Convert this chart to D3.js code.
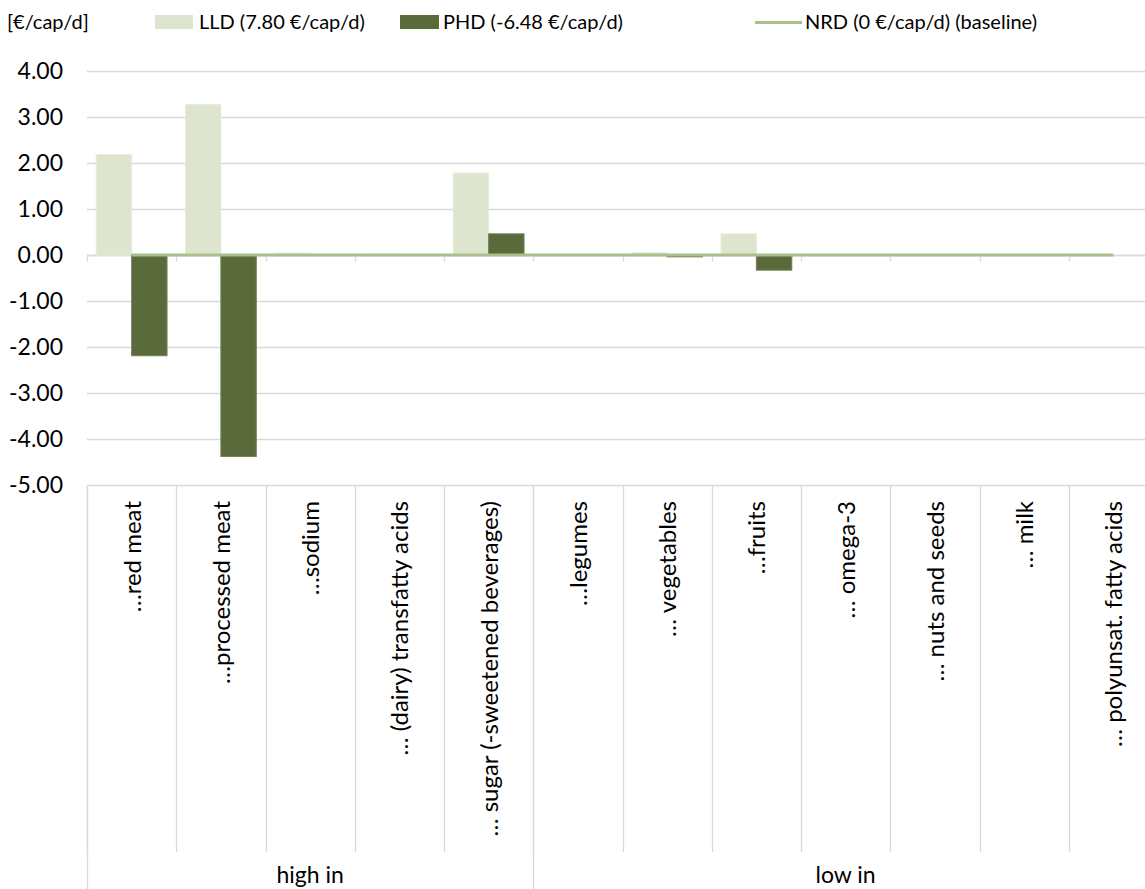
<!DOCTYPE html>
<html>
<head>
<meta charset="utf-8">
<script src="https://cdn.jsdelivr.net/npm/d3@7"></script>
<style>
  body { margin: 0; background: #fff; }
  text { font-family: Lato, "Open Sans", sans-serif; fill: #000; }
</style>
</head>
<body>
<script>
// chart data
var categories = ["…red meat", "…processed meat", "…sodium", "… (dairy) transfatty acids",
    "… sugar (-sweetened beverages)", "…legumes", "… vegetables", "…fruits", "… omega-3",
    "… nuts and seeds", "… milk", "… polyunsat. fatty acids"];
var groups = [{name: "high in", count: 5}, {name: "low in", count: 7}];
var lld = [2.18, 3.27, 0.04, 0.02, 1.78, 0, 0.05, 0.46, 0, 0, 0, 0];
var phd = [-2.19, -4.38, 0, 0, 0.46, 0, -0.04, -0.33, 0, 0, 0, 0];
var nrd = [0, 0, 0, 0, 0, 0, 0, 0, 0, 0, 0, 0];
var yTicks = [4, 3, 2, 1, 0, -1, -2, -3, -4, -5];
var legendItems = ["LLD (7.80 €/cap/d)", "PHD (-6.48 €/cap/d)", "NRD (0 €/cap/d) (baseline)"];

var svgWidth = 1145;
var svgHeight = 889;

var plot = {left: 87, right: 1158, top: 71, bottom: 485};

var svg = d3.select('body').append('svg')
    .attr('width', svgWidth)
    .attr('height', svgHeight);

var x = d3.scaleBand()
    .domain(d3.range(categories.length))
    .range([plot.left, plot.right]);

var xInner = d3.scaleBand()
    .domain(["lld", "phd"])
    .range([0, x.bandwidth()])
    .paddingOuter(0.26)
    .paddingInner(0);

var y = d3.scaleLinear()
    .domain([-5, 4])
    .range([plot.bottom, plot.top]);

var fmt = d => d3.format('.2f')(d).replace('−', '-');

// gridlines
svg.append('g')
    .selectAll('line')
    .data(yTicks)
    .enter()
    .append('line')
    .attr('x1', plot.left)
    .attr('x2', plot.right)
    .attr('y1', d => Math.round(y(d)) + 0.5)
    .attr('y2', d => Math.round(y(d)) + 0.5)
    .attr('stroke', '#d9d9d9')
    .attr('stroke-width', 1.3);

// y labels
svg.append('g')
    .selectAll('text')
    .data(yTicks)
    .enter()
    .append('text')
    .attr('x', 63)
    .attr('y', d => y(d))
    .attr('dy', '0.35em')
    .attr('text-anchor', 'end')
    .style('font-size', '23px')
    .text(fmt);

// category axis at zero with ticks
var zeroY = Math.round(y(0)) + 0.5;
svg.append('line')
    .attr('x1', plot.left).attr('x2', plot.right)
    .attr('y1', zeroY).attr('y2', zeroY)
    .attr('stroke', '#d9d9d9').attr('stroke-width', 1.3);
svg.append('g')
    .selectAll('line')
    .data(d3.range(categories.length + 1))
    .enter()
    .append('line')
    .attr('x1', i => Math.round(plot.left + i * x.step()) + 0.5)
    .attr('x2', i => Math.round(plot.left + i * x.step()) + 0.5)
    .attr('y1', zeroY)
    .attr('y2', zeroY + 6)
    .attr('stroke', '#d9d9d9').attr('stroke-width', 1.3);

// bars
var barData = [];
categories.forEach((c, i) => {
    barData.push({i: i, key: 'lld', v: lld[i]});
    barData.push({i: i, key: 'phd', v: phd[i]});
});

svg.append('g')
    .selectAll('rect')
    .data(barData.filter(d => d.v !== 0))
    .enter()
    .append('rect')
    .attr('x', d => x(d.i) + xInner(d.key))
    .attr('width', xInner.bandwidth())
    .attr('y', d => Math.min(y(d.v), y(0)))
    .attr('height', d => Math.abs(y(d.v) - y(0)))
    .attr('fill', d => d.key === 'lld' ? '#dde5cf' : '#5a6a3b')
    .attr('stroke', d => d.key === 'lld' ? '#e6ecdc' : '#728157')
    .attr('stroke-width', 1);

// NRD baseline line series
var line = d3.line()
    .x((d, i) => x(i) + x.bandwidth() / 2)
    .y(d => y(d));
svg.append('path')
    .datum(nrd)
    .attr('d', line)
    .attr('fill', 'none')
    .attr('stroke', '#a9bf8c')
    .attr('stroke-width', 3.2);

// category label area: dividers
var labelBottom = 852;
svg.append('g')
    .selectAll('line')
    .data(d3.range(categories.length + 1))
    .enter()
    .append('line')
    .attr('x1', i => Math.round(plot.left + i * x.step()) + 0.5)
    .attr('x2', i => Math.round(plot.left + i * x.step()) + 0.5)
    .attr('y1', plot.bottom)
    .attr('y2', labelBottom)
    .attr('stroke', '#d9d9d9').attr('stroke-width', 1.3);

// group dividers
var groupEdges = [0];
groups.forEach(g => groupEdges.push(groupEdges[groupEdges.length - 1] + g.count));
svg.append('g')
    .selectAll('line')
    .data(groupEdges)
    .enter()
    .append('line')
    .attr('x1', i => Math.round(plot.left + i * x.step()) + 0.5)
    .attr('x2', i => Math.round(plot.left + i * x.step()) + 0.5)
    .attr('y1', plot.bottom)
    .attr('y2', svgHeight)
    .attr('stroke', '#d9d9d9').attr('stroke-width', 1.3);

// rotated category labels
svg.append('g')
    .selectAll('text')
    .data(categories)
    .enter()
    .append('text')
    .attr('transform', (d, i) => `translate(${x(i) + x.bandwidth() / 2 + 9}, 501) rotate(-90)`)
    .attr('text-anchor', 'end')
    .style('font-size', '24px')
    .text(d => d);

// group labels
svg.append('g')
    .selectAll('text')
    .data(groups)
    .enter()
    .append('text')
    .attr('x', (g, k) => plot.left + (groupEdges[k] + g.count / 2) * x.step())
    .attr('y', 883)
    .attr('text-anchor', 'middle')
    .style('font-size', '23px')
    .text(g => g.name);

// legend
svg.append('text')
    .attr('x', 7).attr('y', 29)
    .style('font-size', '20px')
    .text('[€/cap/d]');

var legend = svg.append('g');
legend.append('rect').attr('x', 155).attr('y', 15).attr('width', 38).attr('height', 14).attr('fill', '#dde5cf');
legend.append('text').attr('x', 199).attr('y', 29).style('font-size', '20px').text(legendItems[0]);
legend.append('rect').attr('x', 400).attr('y', 15).attr('width', 39).attr('height', 14).attr('fill', '#5a6a3b');
legend.append('text').attr('x', 443).attr('y', 29).style('font-size', '20px').text(legendItems[1]);
legend.append('line').attr('x1', 755).attr('x2', 802).attr('y1', 22.5).attr('y2', 22.5)
    .attr('stroke', '#a9bf8c').attr('stroke-width', 3.2);
legend.append('text').attr('x', 805).attr('y', 29).style('font-size', '20px').text(legendItems[2]);
</script>
</body>
</html>
